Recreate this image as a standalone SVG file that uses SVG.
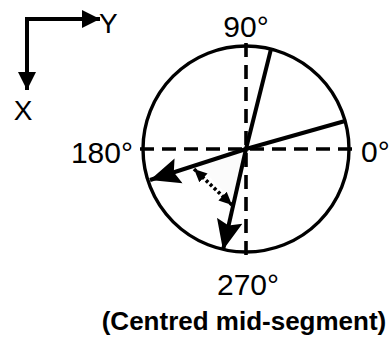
<svg xmlns="http://www.w3.org/2000/svg" width="390" height="342" viewBox="0 0 390 342">
<style>
.t{font-family:"Liberation Sans",Arial,sans-serif;fill:#000}
.ln{stroke:#000;stroke-width:4;fill:none;stroke-linecap:butt}
.dash{stroke:#000;stroke-width:3.6;fill:none;stroke-dasharray:14 8}
</style>
<defs>
<marker id="big" markerUnits="userSpaceOnUse" markerWidth="32" markerHeight="30" viewBox="0 0 32 30" refX="30" refY="15" orient="auto">
<path d="M0,2 L30,15 L0,28 L5,15 z" fill="#000"/>
</marker>
<marker id="ax" markerUnits="userSpaceOnUse" markerWidth="20" markerHeight="20" viewBox="0 0 20 20" refX="18" refY="10" orient="auto">
<path d="M0,1 L18,10 L0,19 z" fill="#000"/>
</marker>
<marker id="sm" markerUnits="userSpaceOnUse" markerWidth="14" markerHeight="14" viewBox="0 0 14 14" refX="13" refY="7" orient="auto-start-reverse">
<path d="M0,1 L13,7 L0,13 z" fill="#000"/>
</marker>
</defs>
<g id="axes">
<path class="ln" d="M27,19 H100" marker-end="url(#ax)"/>
<path class="ln" d="M27,17 V90" marker-end="url(#ax)"/>
<text class="t" x="99" y="33" font-size="28">Y</text>
<text class="t" x="23" y="120" font-size="28" text-anchor="middle">X</text>
</g>
<g id="circle">
<circle cx="246" cy="149" r="103" fill="none" stroke="#000" stroke-width="3.4"/>
</g>
<g id="wedge">
<path d="M246,149 L198,165 L232,200 z" fill="#e6e6e6" opacity="0.15"/>
</g>
<g id="connectors">
<line class="dash" x1="140" y1="149" x2="352" y2="149"/>
<line class="dash" x1="246" y1="43" x2="246" y2="260"/>
<line class="ln" x1="246" y1="149" x2="271" y2="49"/>
<line class="ln" x1="246" y1="149" x2="345" y2="121"/>
<line class="ln" x1="246" y1="149" x2="150" y2="180" marker-end="url(#big)"/>
<line class="ln" x1="246" y1="149" x2="223" y2="250" marker-end="url(#big)"/>
<line x1="194" y1="169" x2="232" y2="205" stroke="#000" stroke-width="3.6" stroke-dasharray="3 2.5" marker-start="url(#sm)" marker-end="url(#sm)"/>
</g>
<g id="labels">
<text class="t" x="246" y="37" font-size="30" text-anchor="middle">90°</text>
<text class="t" x="133" y="163" font-size="30" text-anchor="end">180°</text>
<text class="t" x="361" y="162" font-size="30">0°</text>
<text class="t" x="248" y="295" font-size="30" text-anchor="middle">270°</text>
<text class="t" x="244" y="330" font-size="26" font-weight="bold" text-anchor="middle">(Centred mid-segment)</text>
</g>
</svg>
